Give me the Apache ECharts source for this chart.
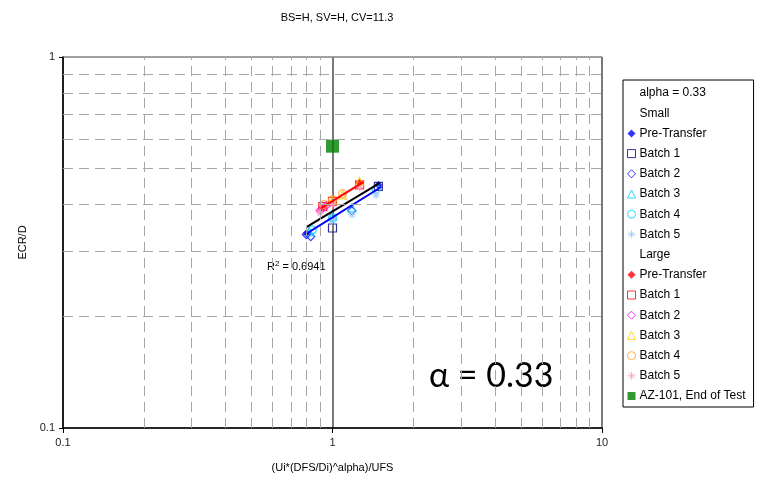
<!DOCTYPE html>
<html>
<head>
<meta charset="utf-8">
<script src="https://cdn.jsdelivr.net/npm/echarts@6/dist/echarts.min.js"></script>
<style>
  html, body { margin: 0; padding: 0; background: #fff; }
  #chart { width: 757px; height: 481px; }
</style>
</head>
<body>
<div id="chart"></div>
<script>
// ECR/D versus scaled velocity ratio, log-log
const titleText = 'BS=H, SV=H, CV=11.3';
const xTicks = [0.1, 1, 10];
const yTicks = [0.1, 1];
const minorX = [0.2, 0.3, 0.4, 0.5, 0.6, 0.7, 0.8, 0.9, 2, 3, 4, 5, 6, 7, 8, 9];
const minorY = [0.2, 0.3, 0.4, 0.5, 0.6, 0.7, 0.8, 0.9];

// Small scale tests
const smallPre = [[0.80, 0.335], [1.48, 0.452]];
const smallB1 = [[1.0, 0.346], [1.48, 0.448]];
const smallB2 = [[0.80, 0.332], [0.83, 0.328], [1.18, 0.385]];
const smallB3 = [[0.82, 0.338], [1.0, 0.372], [1.18, 0.392]];
const smallB4 = [[0.84, 0.342], [1.0, 0.368], [1.45, 0.44]];
const smallB5 = [[1.0, 0.362], [1.18, 0.376], [1.45, 0.425]];

// Large scale tests
const largePre = [[0.92, 0.392], [1.26, 0.458]];
const largeB1 = [[0.92, 0.395], [1.0, 0.408], [1.26, 0.452]];
const largeB2 = [[0.90, 0.386], [0.95, 0.398]];
const largeB3 = [[1.0, 0.41], [1.09, 0.425], [1.26, 0.462]];
const largeB4 = [[0.93, 0.40], [1.0, 0.412], [1.09, 0.428]];
const largeB5 = [[0.90, 0.38], [1.0, 0.40], [1.26, 0.445]];

const azEnd = [[1.0, 0.575]];

// Power-law fits (straight on log-log)
const fitAll = [[0.80, 0.348], [1.50, 0.458]];
const fitSmall = [[0.79, 0.332], [1.52, 0.447]];
const fitLarge = [[0.91, 0.392], [1.30, 0.460]];
const rSquared = '0.6941';

const STAR = 'path://M5,0L5,10M0,5L10,5M1.5,1.5L8.5,8.5M8.5,1.5L1.5,8.5';

const pointSeries = [
  { name: 'Small|Pre-Transfer', data: smallPre, symbol: 'diamond', color: '#0000FF', filled: true },
  { name: 'Small|Batch 1', data: smallB1, symbol: 'rect', color: '#000080' },
  { name: 'Small|Batch 2', data: smallB2, symbol: 'diamond', color: '#0000FF' },
  { name: 'Small|Batch 3', data: smallB3, symbol: 'triangle', color: '#00CCFF' },
  { name: 'Small|Batch 4', data: smallB4, symbol: 'circle', color: '#00CCFF' },
  { name: 'Small|Batch 5', data: smallB5, symbol: STAR, color: '#99CCFF' },
  { name: 'Large|Pre-Transfer', data: largePre, symbol: 'diamond', color: '#FF0000', filled: true },
  { name: 'Large|Batch 1', data: largeB1, symbol: 'rect', color: '#FF0000' },
  { name: 'Large|Batch 2', data: largeB2, symbol: 'diamond', color: '#FF00FF' },
  { name: 'Large|Batch 3', data: largeB3, symbol: 'triangle', color: '#FFCC00' },
  { name: 'Large|Batch 4', data: largeB4, symbol: 'circle', color: '#FF9933' },
  { name: 'Large|Batch 5', data: largeB5, symbol: STAR, color: '#FF99CC' }
];

const series = [];

// dashed minor grid
series.push({
  type: 'scatter', name: 'grid', data: [], silent: true, z: 1,
  markLine: {
    silent: true, symbol: ['none', 'none'], animation: false,
    label: { show: false },
    lineStyle: { color: '#a6a6a6', width: 1, type: [10, 6] },
    data: minorX.map(v => ({ xAxis: v })).concat(minorY.map(v => ({ yAxis: v })))
  }
});

// header rows of the legend
['alpha = 0.33', 'Small', 'Large'].forEach(n => {
  series.push({ type: 'scatter', name: n, data: [], z: 2 });
});

pointSeries.forEach(s => {
  series.push({
    type: 'scatter', name: s.name, data: s.data, z: 3,
    symbol: s.symbol, symbolSize: 8,
    itemStyle: s.filled
      ? { color: s.color }
      : { color: 'rgba(0,0,0,0)', borderColor: s.color, borderWidth: 1.2 }
  });
});

series.push({
  type: 'scatter', name: 'AZ-101, End of Test', data: azEnd, z: 3,
  symbol: 'rect', symbolSize: 13, itemStyle: { color: '#008000' }
});

[[fitAll, '#000000'], [fitSmall, '#0000FF'], [fitLarge, '#FF0000']].forEach(([d, c]) => {
  series.push({
    type: 'line', data: d, symbol: 'none', z: 4, silent: true,
    lineStyle: { color: c, width: 2 }
  });
});

const legendData = [
  { name: 'alpha = 0.33', icon: 'rect', itemStyle: { color: 'rgba(0,0,0,0)', borderWidth: 0 } },
  { name: 'Small', icon: 'rect', itemStyle: { color: 'rgba(0,0,0,0)', borderWidth: 0 } }
];
pointSeries.forEach((s, i) => {
  if (i === 6) legendData.push({ name: 'Large', icon: 'rect', itemStyle: { color: 'rgba(0,0,0,0)', borderWidth: 0 } });
  legendData.push({
    name: s.name, icon: s.symbol,
    itemStyle: s.filled
      ? { color: s.color, borderWidth: 0 }
      : { color: 'rgba(0,0,0,0)', borderColor: s.color, borderWidth: 1 }
  });
});
legendData.push({ name: 'AZ-101, End of Test', icon: 'rect', itemStyle: { color: '#008000', borderWidth: 0 } });

const chart = echarts.init(document.getElementById('chart'), null, { renderer: 'canvas' });
chart.setOption({
  animation: false,
  backgroundColor: '#ffffff',
  textStyle: { fontFamily: 'Liberation Sans, Arial, sans-serif' },
  title: {
    text: titleText, left: 332, top: 7, textAlign: 'center',
    textStyle: { fontSize: 11, fontWeight: 'normal', color: '#000' }
  },
  grid: { left: 63, right: 155, top: 57, bottom: 53 },
  xAxis: {
    type: 'log', logBase: 10, min: 0.1, max: 10,
    name: '(Ui*(DFS/Di)^alpha)/UFS', nameLocation: 'middle', nameGap: 34,
    nameTextStyle: { fontSize: 11, color: '#000' },
    axisLine: { onZero: false, lineStyle: { color: '#000', width: 1.5 } },
    axisTick: { show: true, length: 5, lineStyle: { color: '#000' } },
    axisLabel: { fontSize: 11, color: '#222', margin: 9, formatter: v => String(v) },
    splitLine: { show: true, lineStyle: { color: '#7a7a7a', width: 2 } }
  },
  yAxis: {
    type: 'log', logBase: 10, min: 0.1, max: 1,
    name: 'ECR/D', nameLocation: 'middle', nameGap: 34,
    nameTextStyle: { fontSize: 11, color: '#000' },
    axisLine: { onZero: false, lineStyle: { color: '#000', width: 1.5 } },
    axisTick: { show: true, length: 4, lineStyle: { color: '#000' } },
    axisLabel: { fontSize: 11, color: '#222', margin: 8, formatter: v => String(v) },
    splitLine: { show: true, lineStyle: { color: '#808080', width: 1.5 } }
  },
  legend: {
    orient: 'vertical', left: 623, top: 80,
    padding: [7, 8, 5, 4],
    borderColor: '#000', borderWidth: 1,
    itemWidth: 8, itemHeight: 8, itemGap: 8.2,
    selectedMode: false,
    textStyle: { fontSize: 12, color: '#000', padding: [0, 0, 0, -1] },
    formatter: n => n.indexOf('|') >= 0 ? n.split('|')[1] : n,
    data: legendData
  },
  graphic: [
    {
      type: 'text', left: 267, top: 260,
      style: {
        text: '{a|R}{s|2}{a| = ' + rSquared + '}',
        rich: {
          a: { fontSize: 11, fill: '#000', fontFamily: 'Liberation Sans' },
          s: { fontSize: 8, fill: '#000', verticalAlign: 'top', fontFamily: 'Liberation Sans', padding: [0, 0, 5, 0] }
        }
      }
    },
    {
      type: 'text', left: 429, top: 359,
      style: { text: 'α = 0.33', fontSize: 34, fontFamily: 'Lato', fill: '#000' }
    }
  ],
  series: series
});
</script>
</body>
</html>
